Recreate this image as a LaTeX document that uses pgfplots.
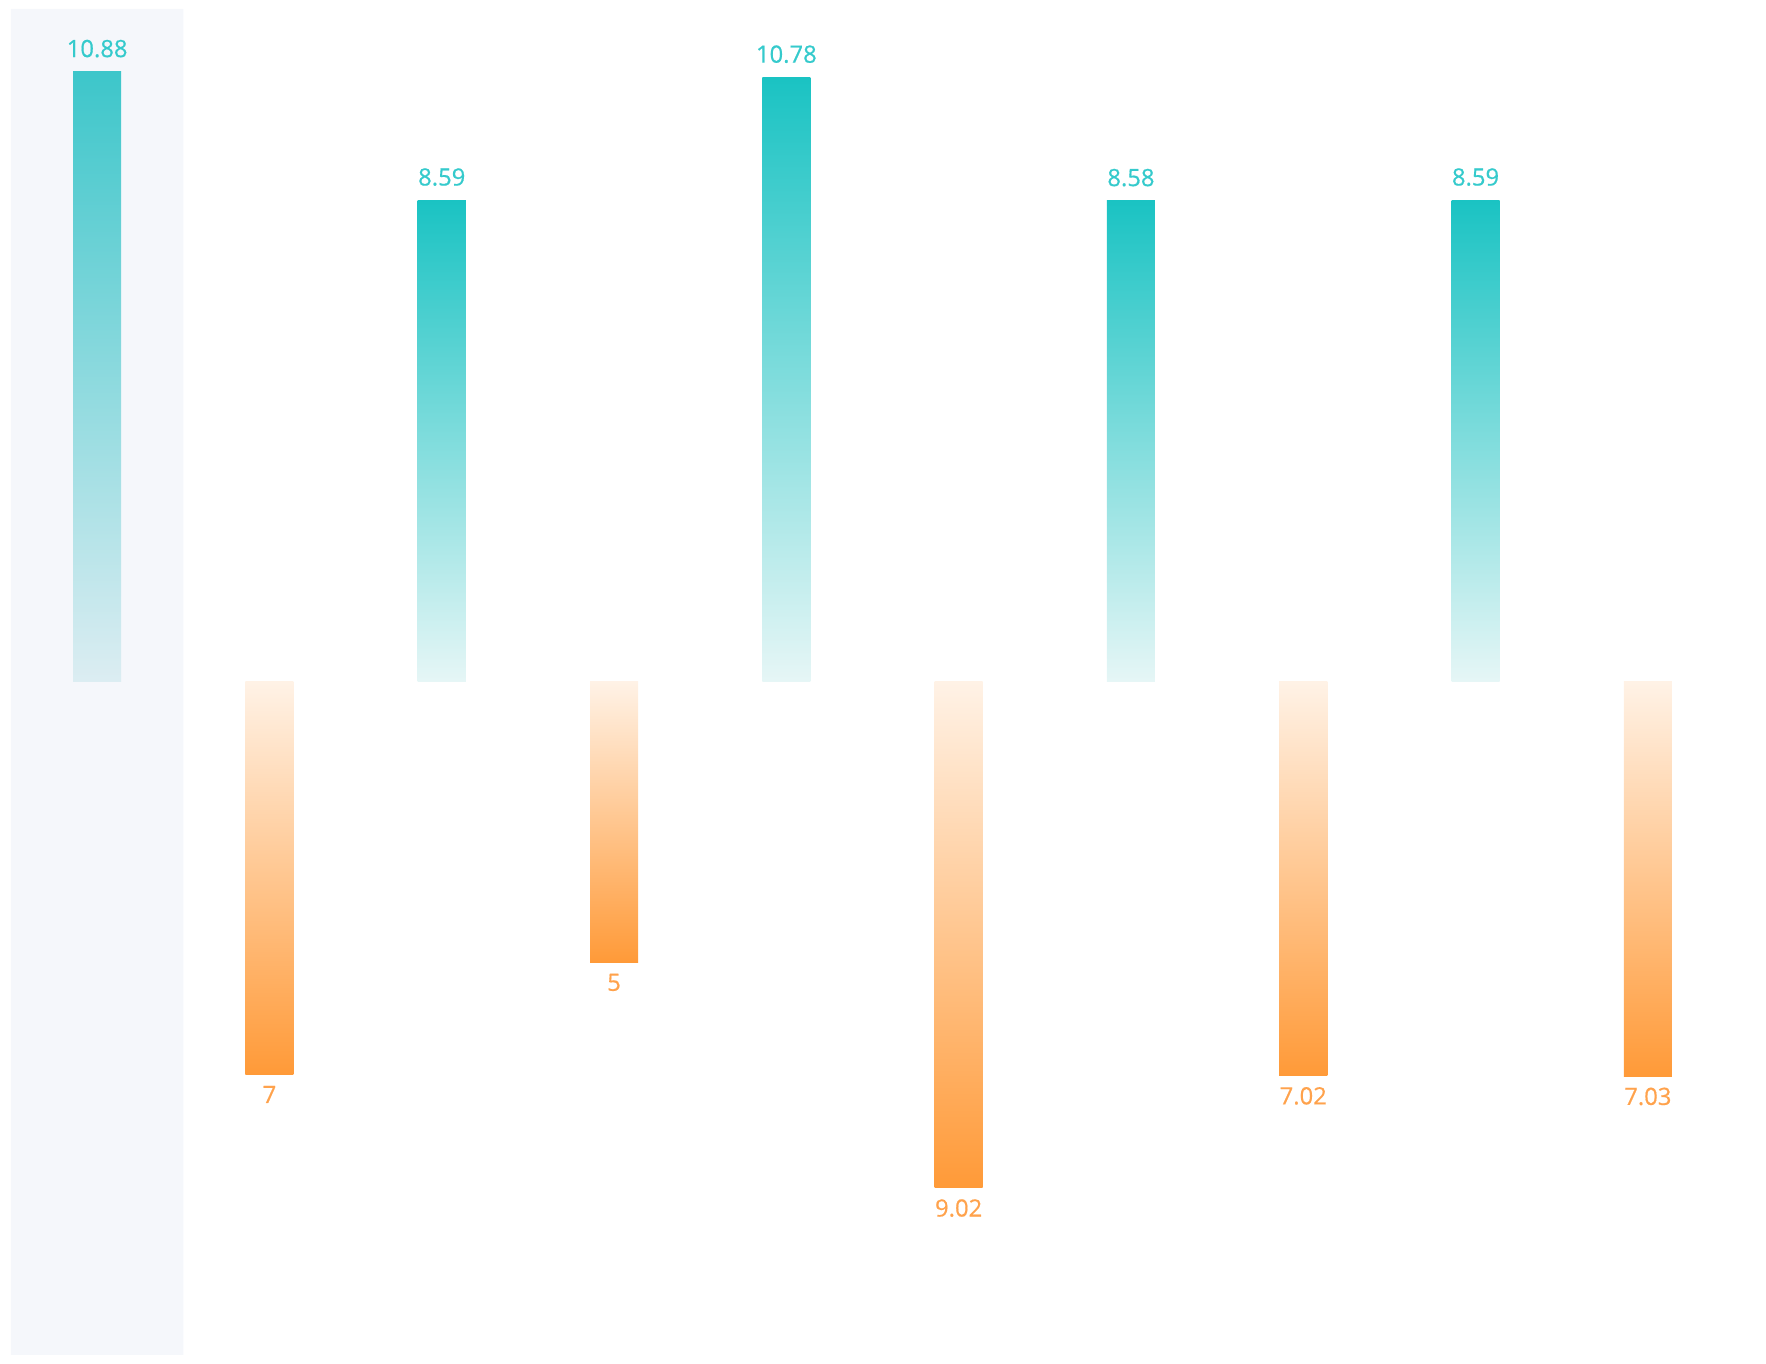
\documentclass[border=0pt]{standalone}
\usepackage{pgfplots}
\pgfplotsset{compat=1.18}
\usepackage{fontspec}
\setmainfont{Open Sans}
\newfontfamily\labfont{Open Sans}[FakeBold=0.6]
\definecolor{cyantop}{HTML}{1AC3C3}
\definecolor{cyanbot}{HTML}{E6F6F6}
\definecolor{cyantopA}{HTML}{3DC6CA}
\definecolor{cyanbotA}{HTML}{DCEDF2}
\definecolor{orangebot}{HTML}{FF9A38}
\definecolor{orangetop}{HTML}{FFF2E6}
\definecolor{cyanlab}{HTML}{35CACC}
\definecolor{orangelab}{HTML}{FFA24C}
\definecolor{shadowbg}{HTML}{F5F7FB}
\pgfplotsset{
  posbar/.style={ybar, bar width=0.279, bar shift=0pt, draw=none, top color=cyantop, bottom color=cyanbot,
    point meta=explicit symbolic, nodes near coords,
    every node near coord/.append style={anchor=south, yshift=7pt, inner sep=0pt, text=cyanlab, font=\labfont\fontsize{11.9}{14}\selectfont}},
  negbar/.style={ybar, bar width=0.279, bar shift=0pt, draw=none, top color=orangetop, bottom color=orangebot,
    point meta=explicit symbolic, nodes near coords,
    every node near coord/.append style={anchor=north, yshift=-5.5pt, inner sep=0pt, text=orangelab, font=\labfont\fontsize{11.9}{14}\selectfont}},
}
\begin{document}
\begin{tikzpicture}
\begin{axis}[
  name=ax,
  scale only axis,
  width=861.5pt, height=673pt,
  xmin=-0.5, xmax=9.5, ymin=-12, ymax=12,
  hide axis,
  clip=false,
]
% hover shadow behind first category
\addplot[ybar, bar width=1, bar shift=0pt, fill=shadowbg, draw=none] coordinates {(0,12) (0,-12)};
% first (highlighted) bar
\addplot[posbar, top color=cyantopA, bottom color=cyanbotA] coordinates {(0,10.88) [10.88]};
% positive series
\addplot[posbar] coordinates {(2,8.59) [8.59]};
\addplot[posbar] coordinates {(4,10.78) [10.78]};
\addplot[posbar] coordinates {(6,8.58) [8.58]};
\addplot[posbar] coordinates {(8,8.59) [8.59]};
% negative series
\addplot[negbar] coordinates {(1,-7) [7]};
\addplot[negbar] coordinates {(3,-5) [5]};
\addplot[negbar] coordinates {(5,-9.02) [9.02]};
\addplot[negbar] coordinates {(7,-7.02) [7.02]};
\addplot[negbar] coordinates {(9,-7.03) [7.03]};
\end{axis}
\path[use as bounding box] ([xshift=-5.5pt,yshift=-4.5pt]ax.south west) rectangle ([xshift=16pt,yshift=4.5pt]ax.north east);
\end{tikzpicture}
\end{document}
